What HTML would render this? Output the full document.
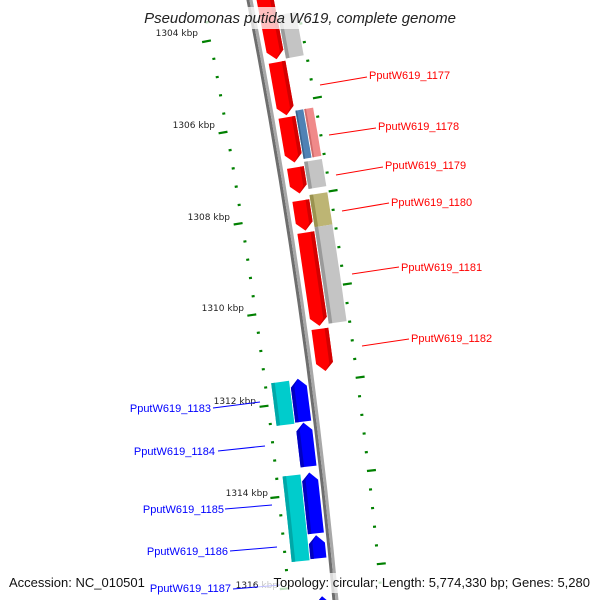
<!DOCTYPE html>
<html><head><meta charset="utf-8"><style>
html,body{margin:0;padding:0;background:#fff;width:600px;height:600px;overflow:hidden}
svg{display:block}
</style></head><body>
<svg id="s" width="600" height="600" xmlns="http://www.w3.org/2000/svg" font-family="'Liberation Sans',sans-serif">
<g id="dyn"></g>
<g font-size="9" fill="#222" font-family="'DejaVu Sans',sans-serif">
<text x="198" y="36" text-anchor="end">1304 kbp</text>
<text x="215" y="128" text-anchor="end">1306 kbp</text>
<text x="230" y="220" text-anchor="end">1308 kbp</text>
<text x="244" y="311" text-anchor="end">1310 kbp</text>
<text x="256" y="404" text-anchor="end">1312 kbp</text>
<text x="268" y="496" text-anchor="end">1314 kbp</text>
<text x="278" y="588" text-anchor="end">1316 kbp</text>
</g>
<g stroke="#ff0000" stroke-width="1">
<line x1="320" y1="85" x2="367" y2="77"/><line x1="329" y1="135" x2="376" y2="128"/>
<line x1="336" y1="175" x2="383" y2="167"/><line x1="342" y1="211" x2="389" y2="203"/>
<line x1="352" y1="274" x2="399" y2="267"/><line x1="362" y1="346" x2="409" y2="339"/>
</g>
<g font-size="11" fill="#ff0000">
<text x="369" y="79">PputW619_1177</text><text x="378" y="130">PputW619_1178</text>
<text x="385" y="169">PputW619_1179</text><text x="391" y="206">PputW619_1180</text>
<text x="401" y="271">PputW619_1181</text><text x="411" y="342">PputW619_1182</text>
</g>
<g stroke="#0000ff" stroke-width="1">
<line x1="213" y1="408" x2="260" y2="402"/><line x1="218" y1="451" x2="265" y2="446"/>
<line x1="225" y1="509" x2="272" y2="505"/><line x1="230" y1="551" x2="277" y2="547"/>
<line x1="233" y1="589" x2="280" y2="585"/>
</g>
<g font-size="11" fill="#0000ff" text-anchor="end">
<text x="211" y="412">PputW619_1183</text><text x="215" y="455">PputW619_1184</text>
<text x="224" y="513">PputW619_1185</text><text x="228" y="555">PputW619_1186</text>
</g>
<rect x="138" y="7" width="326" height="22" fill="#fff" opacity="0.75"/>
<text x="300" y="23" font-size="15" font-style="italic" text-anchor="middle" fill="#222">Pseudomonas putida W619, complete genome</text>
<rect x="5" y="573" width="143" height="20" fill="#fff" opacity="0.75"/>
<rect x="258" y="573" width="337" height="20" fill="#fff" opacity="0.75"/>
<text x="231" y="592" font-size="11" fill="#0000ff" text-anchor="end">PputW619_1187</text>
<text x="9" y="587" font-size="13" fill="#111">Accession: NC_010501</text>
<text x="590" y="587" font-size="13" fill="#111" text-anchor="end">Topology: circular; Length: 5,774,330 bp; Genes: 5,280</text>
</svg>
<script>
var S=document.getElementById('dyn');
var NS='http://www.w3.org/2000/svg';
function X(s){return 249.5+0.1944*s-8.51e-5*s*s;}
function D(s){return 0.1944-2*8.51e-5*s;}
function P(s,o){var d=D(s),n=Math.sqrt(1+d*d);return [X(s)+o/n, s-o*d/n];}
function poly(pts,fill){var p=document.createElementNS(NS,'polygon');p.setAttribute('points',pts.map(function(q){return q[0].toFixed(1)+','+q[1].toFixed(1)}).join(' '));p.setAttribute('fill',fill);S.appendChild(p);}
function band(s0,s1,o0,o1,fill){var pts=[],k,n=10;for(k=0;k<=n;k++)pts.push(P(s0+(s1-s0)*k/n,o0));for(k=n;k>=0;k--)pts.push(P(s0+(s1-s0)*k/n,o1));poly(pts,fill);}
function arrow(s0,s1,o0,o1,fill,dark,dir){var t=8,m=(o0+o1)/2;var pts;
 if(dir>0){pts=[P(s0,o0),P(s1-t,o0),P(s1,m),P(s1-t,o1),P(s0,o1)];}
 else{pts=[P(s1,o0),P(s0+t,o0),P(s0,m),P(s0+t,o1),P(s1,o1)];}
 poly(pts,fill);
 var w=(o1-o0)*0.22;
 if(dir>0){poly([P(s0,o1-w),P(s1-t+1,o1-w),P(s1,m),P(s1-t,o1),P(s0,o1)],dark);}
 else{poly([P(s1,o0),P(s0+t,o0),P(s0,m),P(s0+t-1,o0+w),P(s1,o0+w)],dark);}
}
function rect(s0,s1,o0,o1,fill,hl){band(s0,s1,o0,o1,fill);band(s0,s1,o0,o0+(o1-o0)*0.2,hl);}
band(-5,610,-3,0,'#6e6e6e');band(-5,610,0,3,'#a8a8a8');
var R=[[-10,62],[65,118],[120,165],[170,196],[203,233],[235,328],[331,373]];
R.forEach(function(g){arrow(g[0],g[1],7,24,'#ff0000','#d40000',1);});
rect(20,63,25,43,'#c4c4c4','#9a9a9a');
rect(115,163,25,33,'#4f82b5','#3a6590');
rect(115,163,34,43,'#f08a8a','#d06a6a');
rect(166,193,25,43,'#c4c4c4','#9a9a9a');
rect(199,231,25,43,'#bdb574','#9a9250');
rect(231,327,25,43,'#c4c4c4','#9a9a9a');
var B=[[377,420],[421,465],[471,532],[534,557],[595,615]];
B.forEach(function(g){arrow(g[0],g[1],-21,-5,'#0000ff','#0000c0',-1);});
rect(378,421,-40,-22,'#00cccc','#00a8a8');
rect(472,558,-40,-22,'#00cccc','#00a8a8');
rect(600,615,-40,-22,'#00cccc','#00a8a8');
function tick(s,o,len){var a=P(s,o-len/2),b=P(s,o+len/2);var l=document.createElementNS(NS,'line');l.setAttribute('x1',a[0]);l.setAttribute('y1',a[1]);l.setAttribute('x2',b[0]);l.setAttribute('y2',b[1]);l.setAttribute('stroke','#008000');l.setAttribute('stroke-width','2.2');S.appendChild(l);}
for(var i=-1;i<35;i++){var s=32+18.4*i;if(s<-5||s>600)continue;var maj=(i%5==0);tick(s,maj?-50:-46,maj?9:3);}
for(var i=0;i<35;i++){var s=32+18.5*i;if(s>600)continue;var maj=((i-4)%5==0);tick(s,maj?49:46,maj?9:3);}
</script>
</body></html>
